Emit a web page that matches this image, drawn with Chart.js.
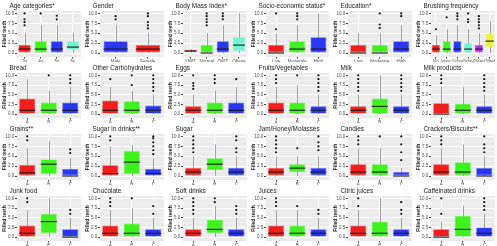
<!DOCTYPE html>
<html>
<head>
<meta charset="utf-8">
<script src="https://cdn.jsdelivr.net/npm/chart.js@4.4.0/dist/chart.umd.min.js"></script>
<style>
  html, body { margin: 0; padding: 0; background: #fff; }
  #grid { position: relative; width: 497px; height: 246px; overflow: hidden; }
  .panel { position: absolute; }
</style>
</head>
<body>
<div id="grid"></div>
<script>
// each box: [lower whisker, q1, median, q3, upper whisker]; outliers listed separately
const abc = ['A', 'B', 'C'];
const ageCats = ['3y', '4y', '5y', '6y'];
const ageBox = [[0,0,1,2,5],[0,0,1,3,7],[0,0,1,3,7],[0,0.8,1.5,3,5]];
const ageOut = [[7,7.8,8.5,10],[10],[8.5,9.4],[]];
const genderCats = ['Male', 'Female'];
const genderBox = [[0,0,1,3,7],[0,0,1,2,5]];
const genderOut = [[8.5,9.3],[6.2,7,7.8,9.3,10]];
const bmiCats = ['UWT', 'Normal', 'OWT', 'Obese'];
const bmiBox = [[0.1,0.3,0.5,0.8,1],[0,0,0,2,5],[0,0,1,3,7],[0,0.5,2,4,10]];
const bmiOut = [[],[7,7.8,8.5,9.3,10],[8.5,9.3,10],[]];
const sesCats = ['Low', 'Moderate', 'High'];
const sesBox = [[0,0,0,2,5],[0,0,1,3,7],[0,0,1,4,10]];
const sesOut = [[6,10],[8.5,9.3,10],[]];
const eduCats = ['Low', 'Moderate', 'High'];
const eduBox = [[0,0,0,2,5],[0,0,0,2,5],[0,0,1,3,7]];
const eduOut = [[],[6.3,7.2,10],[9.3,10]];
const brushCats = ['No', 'Irreg.', '1/day', '2/day', '3/day', 'Other'];
const brushBox = [[0,0,1,2,4.5],[0,0,1,3,6],[0,0,1,3,7],[0,0,1,2.5,6],[0,0,1,2,5],[0,1.5,3,5,8]];
const brushOut = [[6],[9],[8.5,9.3,10],[7.8,8.5,10],[6.2,7,7.8,8.5,9.3],[]];
const breadBox = [[0,0,1,4,9],[0,0,1,3,6],[0,0,1,3,7]];
const breadOut = [[],[10],[8,9,10]];
const carbBox = [[0,0,1,3.5,7],[0,0,1,3.3,6],[0,0,1,2.2,5]];
const carbOut = [[9],[7.5,10],[6,7,8,9,10]];
const eggsBox = [[0,0,1,2,5],[0,0,1,3,6],[0,0,1,3,7]];
const eggsOut = [[6.5,7.3,8,10],[8,9,10],[9]];
const fruitBox = [[0,0,1,3,7],[0,0,1,3,7.5],[0,0,1,2,5]];
const fruitOut = [[8,9,10],[10],[6,7,8,9,10]];
const milkBox = [[0,0,1,2,5],[0,0,2,4,10],[0,0,1,2,5]];
const milkOut = [[6,7,8,9,10],[],[6,7,8,9,10]];
const milkProdBox = [[0,0,0,2.8,7],[0,0,1,2.7,7],[0,0,1,2,5]];
const milkProdOut = [[8,9,10],[],[6,7,8,9,10]];
const grainsBox = [[0,0,0.8,2.8,7],[0,0.5,3,4.2,8.8],[0,0,0,1.8,4.5]];
const grainsOut = [[9,10],[],[5.8,6.7]];
const sugarDrBox = [[0,0,0.6,2.7,7.5],[0,0.5,3.5,6.3,7.8],[0,0,0.6,1.8,4.5]];
const sugarDrOut = [[9,10],[],[5.5,6.5,7.5,8.5,9.5,10]];
const sugarBox = [[0,0,1,2,5],[0,1.5,3,4.5,8],[0,0,1,2,5]];
const sugarOut = [[6,7,8,9,10],[],[6,7,9,10]];
const jamBox = [[0,0,1,2,5],[0,1,2,3,5],[0,0,1,2,5]];
const jamOut = [[6,7,8,9,10],[7],[6.5,7.5,8.5,10]];
const candyBox = [[0,0,1,3,7],[0,0,1,3,7],[0,0,0,1,2]];
const candyOut = [[8,9,10],[10],[4,6,8,10]];
const crackBox = [[0,0,1,3,7],[0,0,1,3.5,8],[0,0,0,2,5]];
const crackOut = [[8,9,10],[],[6,7,8,10]];
const junkBox = [[0,0,1,3,7],[0,1,4,6,10],[0,0,0,2,5]];
const junkOut = [[9,10],[],[6,7]];
const chocBox = [[0,0,1,3,7],[0,0,1,3.5,7.5],[0,0,1,2,5]];
const chocOut = [[8,9,10],[10],[6,8]];
const softBox = [[0,0,1,2,5],[0,1,2,4.5,8],[0,0,1,2,5]];
const softOut = [[6,7,8,9,10],[9,10],[6,7,8]];
const juiceBox = [[0,0,1,3,7],[0,0,1,3,7],[0,0,1,2,5]];
const juiceOut = [[8,9,10],[8],[6,7]];
const citricBox = [[0,0,1,3,7],[0,0,1,4,10],[0,0,1,2,5]];
const citricOut = [[8,10],[],[6,7,9]];
const caffBox = [[0,0,0,2,4],[0,0,2,5.5,8],[0,0,1,2.5,6]];
const caffOut = [[6,10],[],[7,8,9,10]];
const yTicks = [0, 2.5, 5, 7.5, 10];

const RED = '#f21d1d', GREEN = '#3ff21d', BLUE = '#2a37f2', AQUA = '#6ff5d4', PURPLE = '#b52af2', YELLOW = '#eef23a';
const rgb3 = [RED, GREEN, BLUE];

const panels = [
  ['Age categories*', ageCats, ageBox, ageOut, [RED, GREEN, BLUE, AQUA]],
  ['Gender', genderCats, genderBox, genderOut, [BLUE, RED]],
  ['Body Mass Index*', bmiCats, bmiBox, bmiOut, [RED, GREEN, BLUE, AQUA]],
  ['Socio-economic status*', sesCats, sesBox, sesOut, rgb3],
  ['Education*', eduCats, eduBox, eduOut, rgb3],
  ['Brushing frequency', brushCats, brushBox, brushOut, [RED, GREEN, BLUE, AQUA, PURPLE, YELLOW]],
  ['Bread', abc, breadBox, breadOut, rgb3],
  ['Other Carbohydrates', abc, carbBox, carbOut, rgb3],
  ['Eggs', abc, eggsBox, eggsOut, rgb3],
  ['Fruits/Vegetables', abc, fruitBox, fruitOut, rgb3],
  ['Milk', abc, milkBox, milkOut, rgb3],
  ['Milk products', abc, milkProdBox, milkProdOut, rgb3],
  ['Grains**', abc, grainsBox, grainsOut, rgb3],
  ['Sugar in drinks**', abc, sugarDrBox, sugarDrOut, rgb3],
  ['Sugar', abc, sugarBox, sugarOut, rgb3],
  ['Jam/Honey/Molasses', abc, jamBox, jamOut, rgb3],
  ['Candies', abc, candyBox, candyOut, rgb3],
  ['Crackers/Biscuits**', abc, crackBox, crackOut, rgb3],
  ['Junk food', abc, junkBox, junkOut, rgb3],
  ['Chocolate', abc, chocBox, chocOut, rgb3],
  ['Soft drinks', abc, softBox, softOut, rgb3],
  ['Juices', abc, juiceBox, juiceOut, rgb3],
  ['Citric juices', abc, citricBox, citricOut, rgb3],
  ['Caffeinated drinks', abc, caffBox, caffOut, rgb3]
];

const FONT = '"Liberation Sans", Arial, sans-serif';

const boxExtras = {
  id: 'boxExtras',
  beforeDraw(chart, args, opts) {
    const a = chart.chartArea, ctx = chart.ctx;
    ctx.save();
    ctx.fillStyle = '#ebebeb';
    ctx.fillRect(a.left, a.top, a.right - a.left, a.bottom - a.top);
    ctx.restore();
  },
  beforeDatasetsDraw(chart, args, opts) {
    const ctx = chart.ctx, x = chart.scales.x, y = chart.scales.y;
    ctx.save();
    ctx.strokeStyle = '#8a8a8a';
    ctx.lineWidth = 0.8;
    opts.boxes.forEach((b, i) => {
      const px = Math.round(x.getPixelForValue(i)) + 0.5;
      ctx.beginPath();
      ctx.moveTo(px, y.getPixelForValue(b[0]));
      ctx.lineTo(px, y.getPixelForValue(b[4]));
      ctx.stroke();
    });
    ctx.restore();
  },
  afterDatasetsDraw(chart, args, opts) {
    const ctx = chart.ctx, x = chart.scales.x, y = chart.scales.y;
    const bars = chart.getDatasetMeta(0).data;
    ctx.save();
    opts.boxes.forEach((b, i) => {
      const px = x.getPixelForValue(i), w = bars[i].width;
      ctx.strokeStyle = '#1a1a1a';
      ctx.lineWidth = 1.1;
      ctx.beginPath();
      ctx.moveTo(px - w / 2, y.getPixelForValue(b[2]));
      ctx.lineTo(px + w / 2, y.getPixelForValue(b[2]));
      ctx.stroke();
      ctx.fillStyle = '#111';
      opts.outs[i].forEach(v => {
        ctx.beginPath();
        ctx.arc(px, y.getPixelForValue(v), 1.1, 0, Math.PI * 2);
        ctx.fill();
      });
    });
    // panel title
    ctx.fillStyle = '#1a1a1a';
    ctx.font = '6.4px ' + FONT;
    ctx.textBaseline = 'alphabetic';
    ctx.textAlign = 'left';
    ctx.fillText(opts.title, chart.chartArea.left - 7, chart.chartArea.top - 3.5);
    ctx.restore();
  }
};

const grid = document.getElementById('grid');
const colW = 497 / 6, rowH = 246 / 4;

panels.forEach((p, k) => {
  const [title, cats, boxes, outs, cols] = p;
  const c = k % 6, r = Math.floor(k / 6);
  const left = Math.round(c * colW), top = Math.round(r * rowH);
  const w = Math.round((c + 1) * colW) - left, h = Math.round((r + 1) * rowH) - top;
  const div = document.createElement('div');
  div.className = 'panel';
  div.style.left = left + 'px';
  div.style.top = top + 'px';
  div.style.width = w + 'px';
  div.style.height = h + 'px';
  const cv = document.createElement('canvas');
  div.appendChild(cv);
  grid.appendChild(div);

  new Chart(cv, {
    type: 'bar',
    data: {
      labels: cats,
      datasets: [{
        data: boxes.map(b => [b[1], b[3]]),
        backgroundColor: cols,
        borderColor: cols.map(col => col + 'aa'),
        borderWidth: 0.7,
        borderSkipped: false,
        barPercentage: 0.75,
        categoryPercentage: 1
      }]
    },
    plugins: [boxExtras],
    options: {
      responsive: true,
      maintainAspectRatio: false,
      animation: false,
      events: [],
      layout: { padding: { left: 1, right: 2, top: 11, bottom: 0 } },
      plugins: {
        legend: { display: false },
        tooltip: { enabled: false },
        boxExtras: { boxes: boxes, outs: outs, title: title }
      },
      scales: {
        x: {
          offset: true,
          grid: { offset: false, color: '#ffffff', lineWidth: 1, tickLength: 1.5, tickColor: '#444' },
          border: { display: false },
          ticks: { font: { size: 4.5, family: FONT }, color: '#4d4d4d', padding: 0.5, maxRotation: 0, autoSkip: false },
          afterFit: s => { s.height = 5; }
        },
        y: {
          min: -1,
          max: 10.6,
          afterBuildTicks: s => {
            const t = [];
            for (let v = 0; v <= 10; v += 1.25) t.push({ value: v });
            s.ticks = t;
          },
          grid: {
            color: ctx => yTicks.includes(ctx.tick.value) ? '#ffffff' : 'rgba(255,255,255,0.55)',
            lineWidth: ctx => yTicks.includes(ctx.tick.value) ? 1 : 0.6,
            tickLength: 1.5,
            tickColor: ctx => yTicks.includes(ctx.tick.value) ? '#444' : 'rgba(0,0,0,0)'
          },
          border: { display: false },
          ticks: {
            autoSkip: false,
            font: { size: 4.5, family: FONT },
            color: '#4d4d4d',
            padding: 0.8,
            callback: v => yTicks.includes(v) ? v.toFixed(1) : ''
          },
          title: { display: true, text: 'Filled teeth', font: { size: 5, family: FONT, weight: 'bold' }, color: '#1a1a1a', padding: 0.5 },
          afterFit: s => { s.width = 15.5; }
        }
      }
    }
  });
});
</script>
</body>
</html>
